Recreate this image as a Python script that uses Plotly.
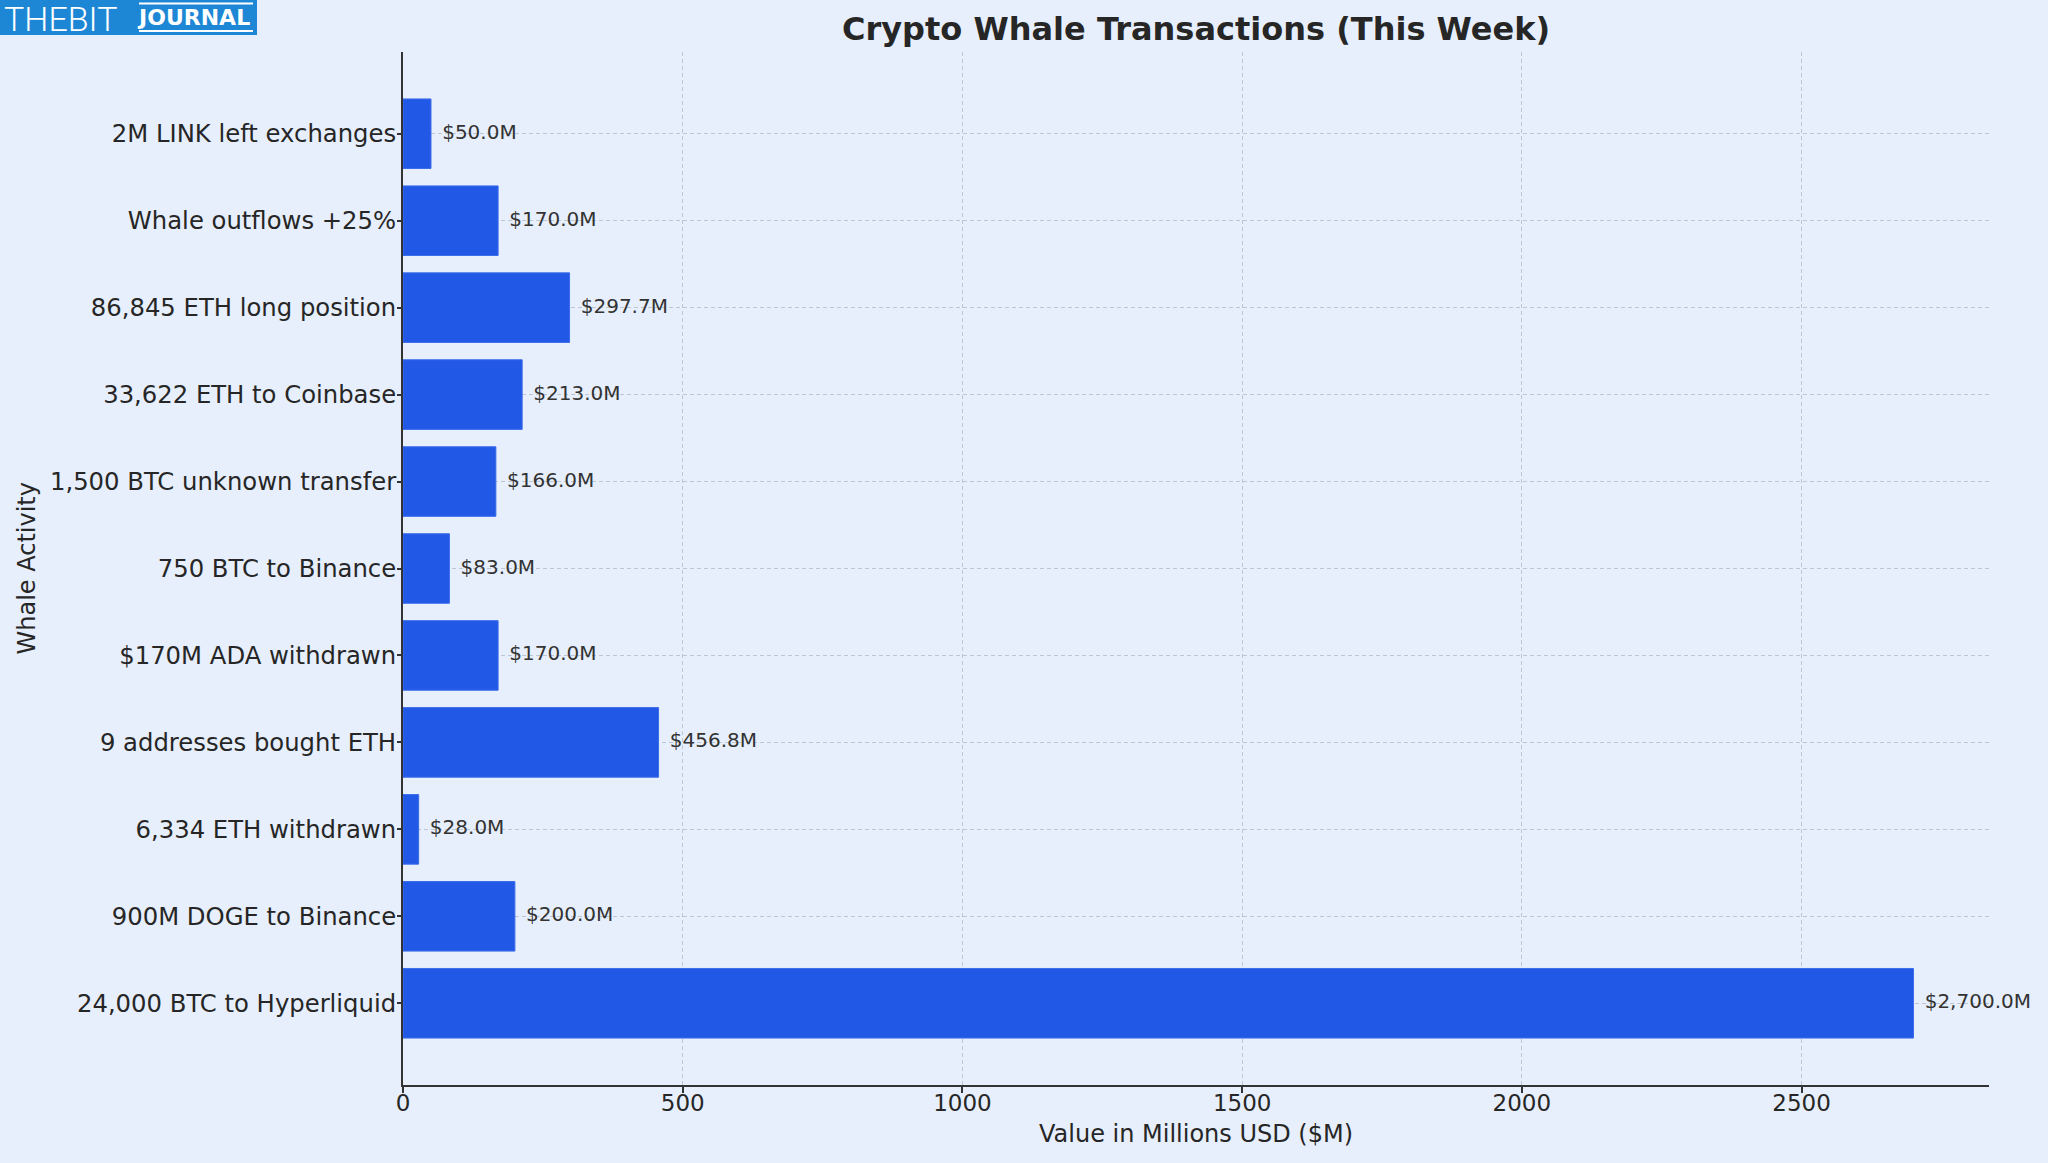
import plotly.graph_objects as go

categories = ["24,000 BTC to Hyperliquid", "900M DOGE to Binance", "6,334 ETH withdrawn",
              "9 addresses bought ETH", "$170M ADA withdrawn", "750 BTC to Binance",
              "1,500 BTC unknown transfer", "33,622 ETH to Coinbase", "86,845 ETH long position",
              "Whale outflows +25%", "2M LINK left exchanges"]
values = [2700, 200, 28, 456.8, 170, 83, 166, 213, 297.7, 170, 50]
labels = [f"${v:,.1f}M" for v in values]
x_ticks = [0, 500, 1000, 1500, 2000, 2500]

W, H = 2048, 1163
L, R, T, B = 403, 59, 52, 78
pw, ph = W - L - R, H - T - B

def px(x):
    return (x - L) / pw

def py(y):
    return (H - B - y) / ph

BG = "#E6EFFB"
FONT = "DejaVu Sans"
TXT = "#262626"
GRID = "rgba(150,158,170,0.5)"

fig = go.Figure()
fig.add_trace(go.Bar(
    y=categories, x=values, orientation="h", width=0.8,
    marker=dict(color="#2258E6", line=dict(color="#3A6CEB", width=1)),
    hoverinfo="x+y",
))
fig.add_trace(go.Scatter(
    y=categories, x=[v + 20 for v in values], mode="text", text=labels,
    textposition="middle right", cliponaxis=False,
    textfont=dict(family=FONT, size=20, color="#333333"), hoverinfo="skip",
))

# logo
logo_shapes = [
    dict(type="rect", xref="paper", yref="paper", x0=px(0), x1=px(257), y0=py(35), y1=py(0),
         fillcolor="#1E87D5", line=dict(width=0), layer="above"),
    dict(type="line", xref="paper", yref="paper", x0=px(139), x1=px(253), y0=py(3.5), y1=py(3.5),
         line=dict(color="white", width=2)),
    dict(type="line", xref="paper", yref="paper", x0=px(139), x1=px(253), y0=py(31), y1=py(31),
         line=dict(color="white", width=2)),
]

fig.update_layout(
    width=W, height=H,
    margin=dict(l=L, r=R, t=T, b=B),
    paper_bgcolor=BG, plot_bgcolor=BG,
    showlegend=False,
    bargap=0.2,
    shapes=logo_shapes,
    title=dict(text="<b>Crypto Whale Transactions (This Week)</b>", x=px(L + pw / 2), xref="paper",
               xanchor="center", y=1 - 29 / H, yref="container", yanchor="middle",
               font=dict(family=FONT, size=32, color=TXT)),
    font=dict(family=FONT, color=TXT),
    xaxis=dict(
        range=[0, 2835], tickvals=x_ticks, ticktext=[str(t) for t in x_ticks],
        showgrid=True, gridcolor=GRID, griddash="4px,3px", gridwidth=1,
        showline=True, linecolor="#333333", linewidth=2, ticks="outside", ticklen=6,
        tickcolor="#333333", tickwidth=1.5, zeroline=False, layer="above traces",
        ticklabelstandoff=-10,
        tickfont=dict(family=FONT, size=23, color=TXT),
    ),
    yaxis=dict(
        type="category", range=[-0.94, 10.94], categoryorder="array", categoryarray=categories,
        showgrid=True, gridcolor=GRID, griddash="4px,3px", gridwidth=1,
        showline=True, linecolor="#333333", linewidth=2, ticks="outside", ticklen=4,
        tickcolor="#333333", tickwidth=1.5, zeroline=False, layer="above traces",
        ticklabelstandoff=-4,
        tickfont=dict(family=FONT, size=24.3, color=TXT),
    ),
    annotations=[
        dict(text="Value in Millions USD ($M)", xref="paper", yref="paper", x=0.5, y=py(1134),
             xanchor="center", yanchor="middle", showarrow=False,
             font=dict(family=FONT, size=24, color=TXT)),
        dict(text="Whale Activity", xref="paper", yref="paper", x=px(26), y=0.5, textangle=-90,
             xanchor="center", yanchor="middle", showarrow=False,
             font=dict(family=FONT, size=24, color=TXT)),
        dict(text="THEBIT", xref="paper", yref="paper", x=px(2), y=py(18.5), xanchor="left",
             yanchor="middle", showarrow=False,
             font=dict(family="Roboto", size=34, color="white", weight=300)),
        dict(text="<b>JOURNAL</b>", xref="paper", yref="paper", x=px(135), y=py(18), xanchor="left",
             yanchor="middle", showarrow=False,
             font=dict(family=FONT, size=22, color="white")),
    ],
)

fig.write_html("out.html")
